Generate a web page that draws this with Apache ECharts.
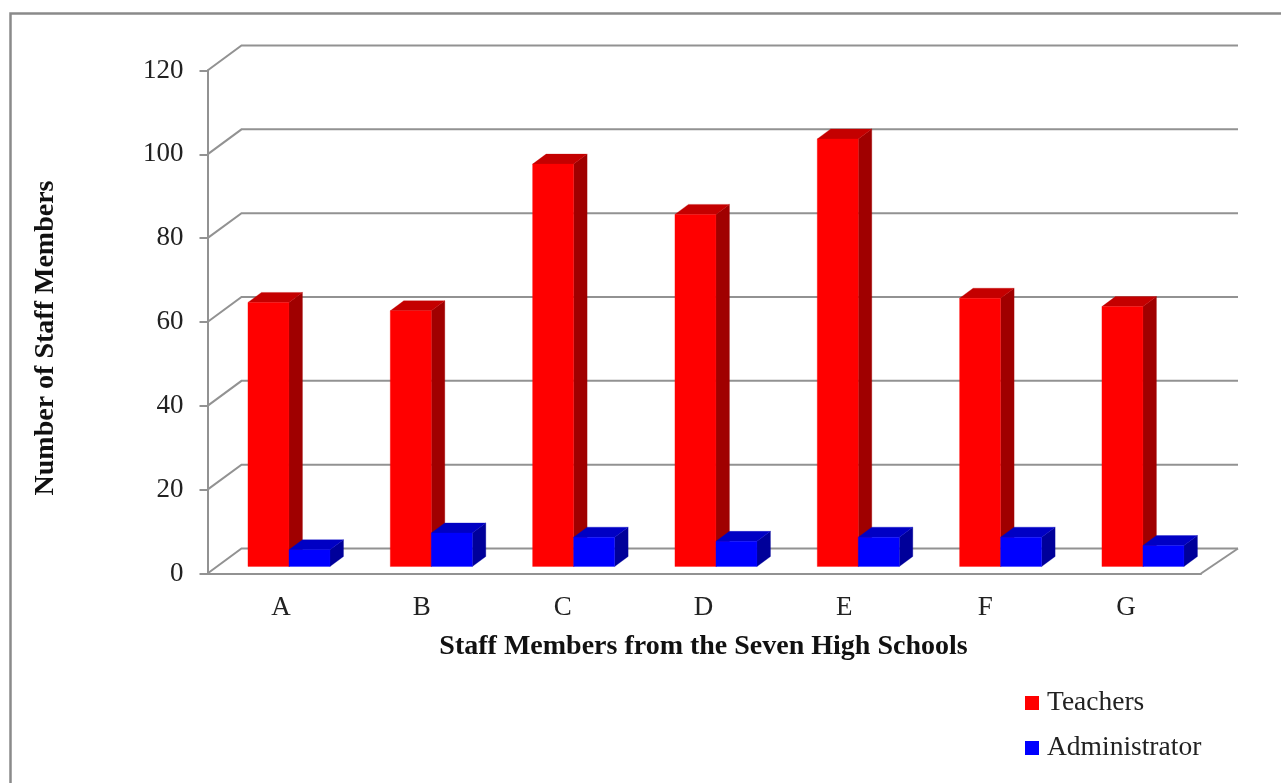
<!DOCTYPE html>
<html>
<head>
<meta charset="utf-8">
<style>html,body{margin:0;padding:0;background:#fff;overflow:hidden}#chart{width:1281px;height:783px}</style>
<script src="https://cdn.jsdelivr.net/npm/echarts@6/dist/echarts.min.js"></script>
</head>
<body>
<div id="chart"></div>
<script>
// Staff counts per high school
const schools = ['A', 'B', 'C', 'D', 'E', 'F', 'G'];
const teachers = [63, 61, 96, 84, 102, 64, 62];
const administrators = [4, 8, 7, 6, 7, 7, 5];
const yTicks = [0, 20, 40, 60, 80, 100, 120];

// Pseudo-3D projection, in pixels
const WALL_DX = 34, WALL_DY = 25;     // floor depth from front edge to back wall
const WALL_RIGHT_DX = 37;             // the right floor edge runs slightly wider
const SEAT_DX = 10.5, SEAT_DY = 7;    // how far the bars' front faces sit behind the front edge
const SEAT_DRIFT = 0.4;               // extra rightward shift per category
const BAR_DX = 13.5, BAR_DY = 10;     // bar depth
const BAR_RATIO = 0.289;              // bar width as a share of the category band

const AXIS_GRAY = '#929292';
const SERIF = '"Liberation Serif", "Times New Roman", serif';

function poly(points, fill) {
  return { type: 'polygon', shape: { points }, style: { fill, stroke: fill, lineWidth: 0.3 } };
}

// One box for a bar; slot -1 sits left of the band centre, slot 0 right of it
function boxRenderer(slot, front, top, side) {
  return function (params, api) {
    const base = api.coord([api.value(0), 0]);
    const peak = api.coord([api.value(0), api.value(1)]);
    const w = api.size([1, 0])[0] * BAR_RATIO;
    const x0 = base[0] + SEAT_DX + SEAT_DRIFT * api.value(0) + slot * w, x1 = x0 + w;
    const y0 = base[1] - SEAT_DY, y1 = peak[1] - SEAT_DY;
    return {
      type: 'group',
      children: [
        poly([[x1, y0], [x1 + BAR_DX, y0 - BAR_DY], [x1 + BAR_DX, y1 - BAR_DY], [x1, y1]], side),
        poly([[x0, y1], [x1, y1], [x1 + BAR_DX, y1 - BAR_DY], [x0 + BAR_DX, y1 - BAR_DY]], top),
        poly([[x0, y0], [x1, y0], [x1, y1], [x0, y1]], front)
      ]
    };
  };
}

// Gridlines: a slanted run up the side wall, then along the back wall
function wallRenderer(params, api) {
  const rect = params.coordSys;
  const left = rect.x, right = rect.x + rect.width;
  const y = api.coord([0, api.value(0)])[1];
  const line = points => ({
    type: 'polyline',
    shape: { points },
    style: { fill: null, stroke: AXIS_GRAY, lineWidth: 2 }
  });
  const children = [line([[left, y], [left + WALL_DX, y - WALL_DY], [right + WALL_RIGHT_DX, y - WALL_DY]])];
  if (api.value(0) === yTicks[0]) {
    children.push(line([[right, y], [right + WALL_RIGHT_DX, y - WALL_DY]]));
  }
  return { type: 'group', children };
}

const chart = echarts.init(document.getElementById('chart'), null, { renderer: 'canvas' });
chart.setOption({
  animation: false,
  backgroundColor: '#fff',
  textStyle: { fontFamily: SERIF },
  grid: [
    { left: 207.5, top: 70.5, width: 993.5, height: 503 },
    // Category labels and the axis title sit on a slightly narrower run
    { left: 210.6, top: 70.5, width: 985.8, height: 503 }
  ],
  xAxis: [
    {
      type: 'category',
      data: schools,
      axisLine: { lineStyle: { color: AXIS_GRAY, width: 2 } },
      axisTick: { length: 8, lineStyle: { color: AXIS_GRAY, width: 2 } },
      axisLabel: { show: false }
    },
    {
      type: 'category',
      gridIndex: 1,
      data: schools,
      axisLine: { show: false },
      axisTick: { show: false },
      axisLabel: { fontFamily: SERIF, fontSize: 27, color: '#222', margin: 21 },
      name: 'Staff Members from the Seven High Schools',
      nameLocation: 'middle',
      nameGap: 59,
      nameTextStyle: { fontFamily: SERIF, fontSize: 28, fontWeight: 'bold', color: '#111' }
    }
  ],
  yAxis: [
    {
      type: 'value',
      min: 0,
      max: 120,
      interval: 20,
      axisLine: { show: true, lineStyle: { color: AXIS_GRAY, width: 2 } },
      axisTick: { show: true, length: 8, lineStyle: { color: AXIS_GRAY, width: 2 } },
      splitLine: { show: false },
      axisLabel: { fontFamily: SERIF, fontSize: 27, color: '#222', margin: 24 }
    },
    { type: 'value', gridIndex: 1, show: false, min: 0, max: 120, interval: 20 }
  ],
  legend: {
    orient: 'vertical',
    left: 1025,
    top: 686,
    padding: 0,
    icon: 'rect',
    itemWidth: 14,
    itemHeight: 14,
    itemGap: 11,
    data: ['Teachers', 'Administrator'],
    textStyle: { fontFamily: SERIF, fontSize: 27.5, color: '#222', padding: [4, 0, 0, 3], lineHeight: 30 }
  },
  series: [
    {
      type: 'custom',
      name: 'wall',
      silent: true,
      z: 1,
      clip: false,
      data: yTicks.map(v => [v]),
      renderItem: wallRenderer
    },
    {
      type: 'custom',
      name: 'Teachers',
      z: 2,
      clip: false,
      itemStyle: { color: '#ff0000' },
      data: teachers.map((v, i) => [i, v]),
      renderItem: boxRenderer(-1, '#ff0000', '#c40000', '#a00000')
    },
    {
      type: 'custom',
      name: 'Administrator',
      z: 3,
      clip: false,
      itemStyle: { color: '#0000ff' },
      data: administrators.map((v, i) => [i, v]),
      renderItem: boxRenderer(0, '#0000ff', '#0000c4', '#00009a')
    }
  ],
  graphic: [
    {
      type: 'rect',
      silent: true,
      z: 0,
      shape: { x: 10.5, y: 13.5, width: 1400, height: 900 },
      style: { fill: 'none', stroke: '#8a8a8a', lineWidth: 2.5 }
    },
    {
      type: 'text',
      silent: true,
      x: 46,
      y: 338,
      rotation: Math.PI / 2,
      style: {
        text: 'Number of Staff Members',
        font: 'bold 28px ' + SERIF,
        fill: '#111',
        textAlign: 'center',
        textVerticalAlign: 'middle'
      }
    }
  ]
});
</script>
</body>
</html>
